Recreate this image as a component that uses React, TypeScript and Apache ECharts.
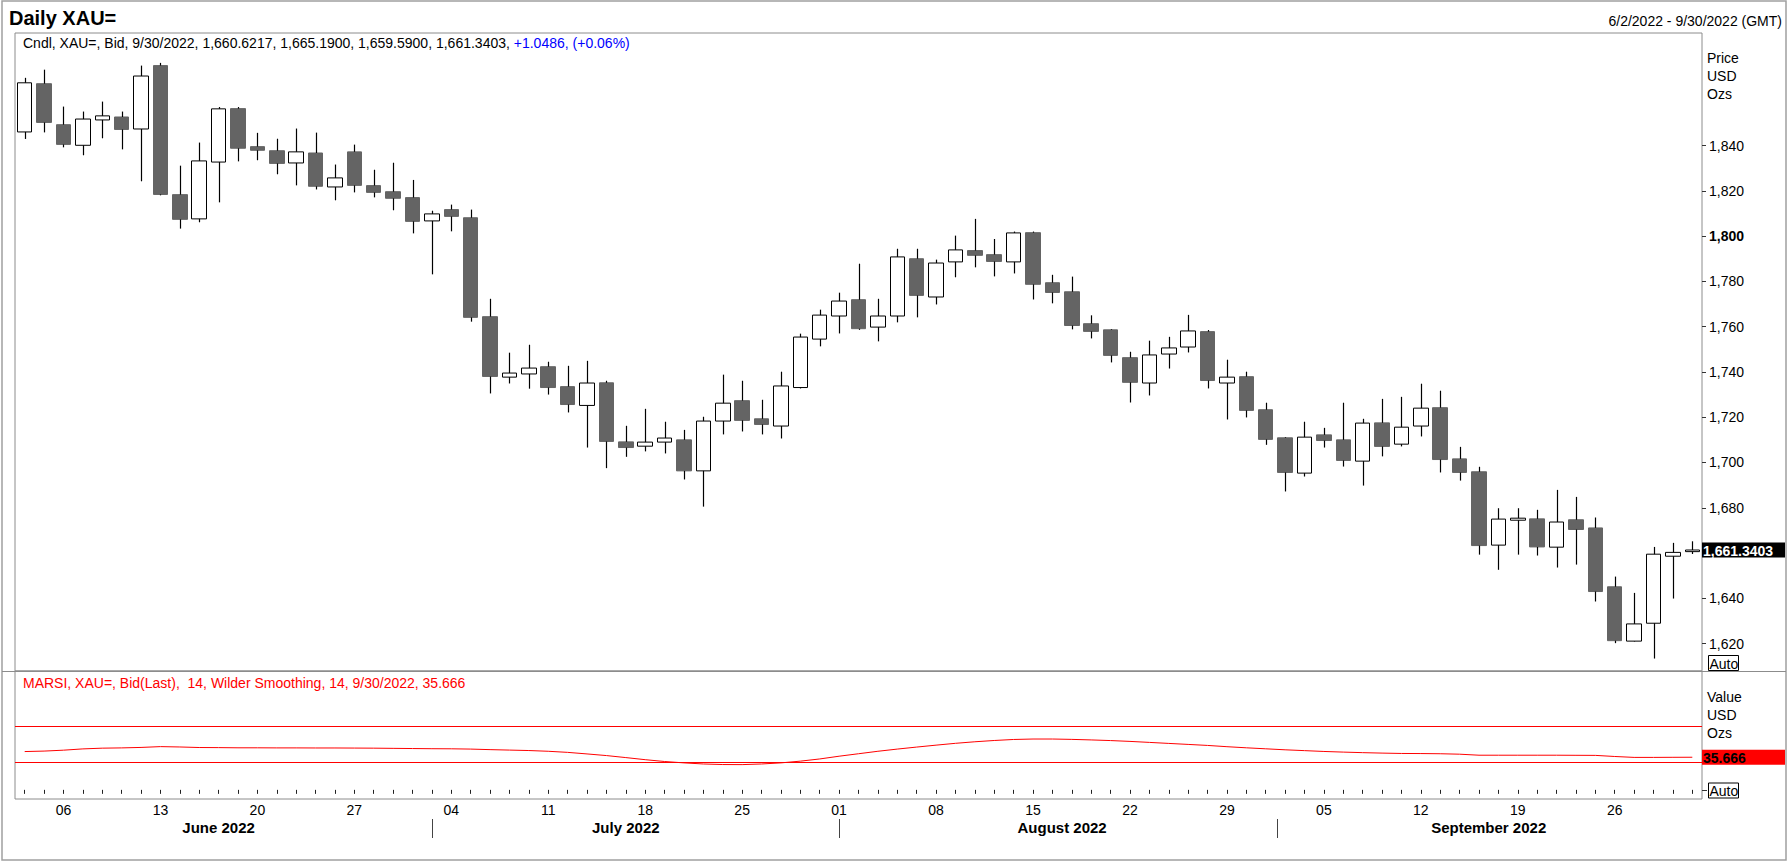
import React, { useEffect, useRef } from "react";
import * as echarts from "echarts";

const dates = [
  "2022-06-02", "2022-06-03",
  "2022-06-06", "2022-06-07", "2022-06-08", "2022-06-09", "2022-06-10",
  "2022-06-13", "2022-06-14", "2022-06-15", "2022-06-16", "2022-06-17",
  "2022-06-20", "2022-06-21", "2022-06-22", "2022-06-23", "2022-06-24",
  "2022-06-27", "2022-06-28", "2022-06-29", "2022-06-30", "2022-07-01",
  "2022-07-04", "2022-07-05", "2022-07-06", "2022-07-07", "2022-07-08",
  "2022-07-11", "2022-07-12", "2022-07-13", "2022-07-14", "2022-07-15",
  "2022-07-18", "2022-07-19", "2022-07-20", "2022-07-21", "2022-07-22",
  "2022-07-25", "2022-07-26", "2022-07-27", "2022-07-28", "2022-07-29",
  "2022-08-01", "2022-08-02", "2022-08-03", "2022-08-04", "2022-08-05",
  "2022-08-08", "2022-08-09", "2022-08-10", "2022-08-11", "2022-08-12",
  "2022-08-15", "2022-08-16", "2022-08-17", "2022-08-18", "2022-08-19",
  "2022-08-22", "2022-08-23", "2022-08-24", "2022-08-25", "2022-08-26",
  "2022-08-29", "2022-08-30", "2022-08-31", "2022-09-01", "2022-09-02",
  "2022-09-05", "2022-09-06", "2022-09-07", "2022-09-08", "2022-09-09",
  "2022-09-12", "2022-09-13", "2022-09-14", "2022-09-15", "2022-09-16",
  "2022-09-19", "2022-09-20", "2022-09-21", "2022-09-22", "2022-09-23",
  "2022-09-26", "2022-09-27", "2022-09-28", "2022-09-29", "2022-09-30",
];

const opens = [
  1846.0, 1867.3,
  1849.2, 1840.1, 1851.3, 1852.6, 1847.3,
  1875.3, 1818.3, 1807.6, 1832.7, 1856.3,
  1839.5, 1837.7, 1832.3, 1836.7, 1821.7,
  1837.2, 1822.3, 1819.6, 1817.0, 1806.7,
  1811.7, 1808.1, 1764.4, 1737.7, 1739.1,
  1742.3, 1733.5, 1725.2, 1735.2, 1709.1,
  1707.2, 1709.0, 1710.0, 1696.3, 1718.3,
  1727.3, 1719.3, 1716.1, 1733.1, 1754.5,
  1764.7, 1771.9, 1759.8, 1764.7, 1790.0,
  1773.1, 1788.6, 1793.6, 1791.8, 1788.6,
  1801.5, 1779.4, 1775.4, 1761.3, 1758.6,
  1746.3, 1735.1, 1747.9, 1751.0, 1757.8,
  1735.1, 1737.9, 1723.3, 1710.9, 1695.3,
  1712.2, 1710.0, 1700.6, 1717.5, 1708.1,
  1716.1, 1724.2, 1701.6, 1695.9, 1663.5,
  1674.5, 1675.1, 1662.6, 1674.7, 1671.1,
  1645.1, 1621.1, 1629.0, 1658.6, 1660.6217,
];

const closes = [
  1867.7, 1850.2,
  1840.5, 1851.7, 1853.1, 1847.1, 1870.7,
  1818.4, 1807.4, 1833.2, 1856.2, 1838.8,
  1837.9, 1832.1, 1837.2, 1822.0, 1825.7,
  1822.4, 1819.3, 1816.7, 1806.5, 1809.8,
  1808.7, 1764.1, 1738.0, 1739.5, 1741.7,
  1733.1, 1725.6, 1735.1, 1709.3, 1706.6,
  1709.0, 1710.8, 1696.3, 1718.3, 1726.2,
  1718.6, 1716.8, 1733.8, 1755.4, 1765.1,
  1771.3, 1759.1, 1764.7, 1790.8, 1773.8,
  1788.1, 1793.9, 1791.5, 1788.8, 1801.4,
  1778.7, 1775.1, 1760.5, 1757.9, 1747.3,
  1735.4, 1747.5, 1750.6, 1758.1, 1736.2,
  1737.7, 1723.0, 1710.2, 1695.6, 1711.2,
  1709.7, 1700.9, 1717.4, 1707.1, 1715.6,
  1724.0, 1701.3, 1695.6, 1663.3, 1675.0,
  1675.4, 1662.7, 1673.7, 1670.4, 1643.0,
  1621.3, 1628.7, 1659.5, 1660.2917, 1661.3403,
];

const highs = [
  1869.9, 1873.5,
  1857.2, 1855.0, 1859.4, 1855.0, 1875.3,
  1876.5, 1831.1, 1841.3, 1857.0, 1857.0,
  1845.6, 1843.0, 1847.5, 1845.7, 1831.6,
  1840.4, 1829.3, 1832.4, 1824.8, 1811.2,
  1813.9, 1811.7, 1772.3, 1748.5, 1752.0,
  1744.5, 1742.7, 1744.9, 1736.1, 1716.2,
  1723.7, 1718.0, 1714.4, 1720.2, 1738.8,
  1736.1, 1727.7, 1740.1, 1756.9, 1767.5,
  1775.0, 1787.8, 1772.3, 1794.4, 1794.4,
  1789.6, 1800.2, 1807.6, 1798.7, 1802.0,
  1802.0, 1782.9, 1782.1, 1765.0, 1758.9,
  1748.9, 1753.8, 1755.5, 1765.2, 1758.5,
  1745.4, 1740.1, 1726.4, 1711.2, 1718.0,
  1715.3, 1726.4, 1719.3, 1728.1, 1729.0,
  1734.8, 1731.7, 1706.9, 1698.1, 1679.8,
  1679.8, 1679.1, 1687.9, 1684.8, 1675.7,
  1649.6, 1642.4, 1662.7, 1664.5, 1665.19,
];

const lows = [
  1842.9, 1845.8,
  1839.2, 1835.7, 1843.2, 1838.3, 1824.2,
  1818.0, 1803.3, 1806.1, 1814.9, 1833.0,
  1833.5, 1827.3, 1822.4, 1820.6, 1815.8,
  1819.3, 1817.1, 1811.4, 1801.2, 1783.1,
  1802.1, 1762.2, 1730.5, 1734.9, 1732.6,
  1730.0, 1722.1, 1706.6, 1697.5, 1702.5,
  1704.9, 1704.0, 1692.5, 1680.5, 1712.4,
  1713.7, 1712.4, 1710.6, 1732.7, 1751.3,
  1757.0, 1758.6, 1753.5, 1761.9, 1764.1,
  1769.8, 1781.8, 1786.2, 1782.2, 1783.5,
  1772.0, 1770.3, 1758.8, 1754.8, 1744.2,
  1726.5, 1729.6, 1741.5, 1748.6, 1732.7,
  1719.0, 1719.9, 1707.8, 1687.2, 1693.8,
  1706.6, 1698.2, 1689.8, 1702.7, 1707.1,
  1711.5, 1695.6, 1692.0, 1659.3, 1652.6,
  1659.3, 1658.9, 1653.6, 1654.9, 1638.6,
  1620.2, 1620.9, 1613.4, 1639.9, 1659.59,
];

const marsi = [
  41.9, 42.4,
  43.4, 44.8, 45.6, 45.9, 46.4,
  47.3, 46.9, 46.3, 46.2, 46.0,
  46.0, 45.9, 45.9, 45.8, 45.8,
  45.7, 45.6, 45.4, 45.2, 45.0,
  44.9, 44.6, 44.0, 43.5, 43.0,
  42.2, 41.0, 39.3, 37.5, 35.3,
  33.0, 31.0, 29.5, 28.3, 27.7,
  27.6, 28.3, 29.5, 31.4, 33.8,
  36.8, 39.5, 42.2, 44.6, 46.8,
  48.9, 50.9, 52.6, 54.0, 55.1,
  55.6, 55.6, 55.2, 54.6, 53.9,
  53.0, 51.9, 50.8, 49.7, 48.6,
  47.2, 46.0, 44.9, 43.8, 42.9,
  42.0, 41.3, 40.7, 40.2, 39.8,
  39.7, 39.5, 39.0, 37.9, 37.9,
  37.9, 37.9, 37.9, 37.8, 37.7,
  36.5, 35.5, 35.5, 35.6, 35.666,
];

const priceTicks = [1620, 1640, 1660, 1680, 1700, 1720, 1740, 1760, 1780, 1800, 1820, 1840];
// 1,660 is hidden behind the last-price box in the reference
const priceLabels = [1620, 1640, 1680, 1700, 1720, 1740, 1760, 1780, 1800, 1820, 1840];
const boldPriceTick = 1800;
const rsiLevels = [70, 30];
const monthNames = ["June 2022", "July 2022", "August 2022", "September 2022"];
const monthCenters = [10, 31, 53.5, 75.5];
const monthBreaks = [21, 42, 64.6];

const FONT = "'Liberation Sans', Arial, Helvetica, sans-serif";

function fmtThousands(v: number, decimals: number): string {
  const s = v.toFixed(decimals);
  const [ip, dp] = s.split(".");
  const withComma = ip.replace(/\B(?=(\d{3})+(?!\d))/g, ",");
  return dp !== undefined ? `${withComma}.${dp}` : withComma;
}

export default function App() {
  const ref = useRef<HTMLDivElement>(null);

  useEffect(() => {
    document.body.style.margin = "0";
    const chart = echarts.init(ref.current!, null, { renderer: "svg" });

    const gridLeft = 15;
    const gridRight = 1702;
    const gridTop = 33;
    const gridMid = 671;
    const gridBottom = 799;

    const n = dates.length;
    const candleData = dates.map((_, i) => [
      opens[i],
      closes[i],
      Math.min(opens[i], closes[i]),
      Math.max(opens[i], closes[i]),
    ]);
    const wickData = dates.map((_, i) => [i, opens[i], closes[i], lows[i], highs[i]]);

    const option: any = {
      animation: false,
      backgroundColor: "#ffffff",
      textStyle: { fontFamily: FONT },
      grid: [
        {
          left: gridLeft,
          top: gridTop,
          width: gridRight - gridLeft,
          height: gridMid - gridTop,
          show: true,
          borderColor: "#8c8c8c",
          borderWidth: 1,
          backgroundColor: "transparent",
        },
        {
          left: gridLeft,
          top: gridMid,
          width: gridRight - gridLeft,
          height: gridBottom - gridMid,
          show: true,
          borderColor: "#8c8c8c",
          borderWidth: 1,
          backgroundColor: "transparent",
        },
      ],
      xAxis: [
        {
          type: "category",
          gridIndex: 0,
          data: dates,
          boundaryGap: true,
          show: false,
        },
        {
          type: "category",
          gridIndex: 1,
          data: dates,
          boundaryGap: true,
          position: "bottom",
          axisLine: { show: false },
          axisTick: {
            show: true,
            alignWithLabel: true,
            interval: 0,
            length: 4,
            lineStyle: { color: "#222", width: 1 },
          },
          axisLabel: {
            interval: (_idx: number, value: string) => new Date(value + "T12:00:00Z").getUTCDay() === 1,
            formatter: (value: string) => value.slice(8, 10),
            color: "#000",
            fontSize: 14,
            fontFamily: FONT,
            margin: 4,
          },
          splitLine: { show: false },
        },
        {
          type: "value",
          gridIndex: 1,
          min: -0.5,
          max: n - 0.5,
          position: "bottom",
          offset: 20,
          axisLine: { show: false },
          splitLine: { show: false },
          axisTick: {
            show: true,
            customValues: monthBreaks,
            length: 19,
            lineStyle: { color: "#444", width: 1 },
          },
          axisLabel: {
            customValues: monthCenters,
            formatter: (v: number) => {
              const k = monthCenters.findIndex((c) => Math.abs(c - v) < 0.01);
              return k >= 0 ? monthNames[k] : "";
            },
            color: "#000",
            fontSize: 15,
            fontWeight: "bold",
            fontFamily: FONT,
            margin: 1,
          },
        },
      ],
      yAxis: [
        {
          type: "value",
          gridIndex: 0,
          position: "right",
          min: 1607.9,
          max: 1889.7,
          scale: true,
          axisLine: { show: false },
          splitLine: { show: false },
          axisTick: {
            show: true,
            customValues: priceTicks,
            length: 4,
            lineStyle: { color: "#333", width: 1 },
          },
          axisLabel: {
            customValues: priceLabels,
            margin: 7,
            color: "#000",
            fontSize: 14,
            fontFamily: FONT,
            formatter: (v: number) => {
              const s = fmtThousands(v, 0);
              return v === boldPriceTick ? `{b|${s}}` : s;
            },
            rich: {
              b: { fontWeight: "bold", fontSize: 14, color: "#000", fontFamily: FONT },
            },
          },
        },
        {
          type: "value",
          gridIndex: 1,
          position: "right",
          min: -10,
          max: 130,
          axisLine: { show: false },
          splitLine: { show: false },
          axisTick: { show: false },
          axisLabel: { show: false },
        },
      ],
      series: [
        {
          type: "candlestick",
          name: "XAU=",
          xAxisIndex: 0,
          yAxisIndex: 0,
          data: candleData,
          barWidth: 15,
          z: 2,
          itemStyle: {
            color: "#ffffff",
            color0: "#646464",
            borderColor: "#000000",
            borderColor0: "#646464",
            borderWidth: 1,
          },
        },
        {
          type: "custom",
          name: "wicks",
          xAxisIndex: 0,
          yAxisIndex: 0,
          data: wickData,
          z: 3,
          encode: { x: 0, y: [1, 2, 3, 4] },
          renderItem: (_params: any, api: any) => {
            const idx = api.value(0);
            const o = api.value(1);
            const c = api.value(2);
            const l = api.value(3);
            const h = api.value(4);
            const pH = api.coord([idx, h]);
            const pT = api.coord([idx, Math.max(o, c)]);
            const pB = api.coord([idx, Math.min(o, c)]);
            const pL = api.coord([idx, l]);
            const xx = Math.round(pH[0]) + 0.5;
            return {
              type: "group",
              children: [
                {
                  type: "line",
                  shape: { x1: xx, y1: pH[1], x2: xx, y2: pT[1] },
                  style: { stroke: "#000", lineWidth: 1.2 },
                },
                {
                  type: "line",
                  shape: { x1: xx, y1: pB[1], x2: xx, y2: pL[1] },
                  style: { stroke: "#000", lineWidth: 1.2 },
                },
              ],
            };
          },
        },
        {
          type: "line",
          name: "MARSI",
          xAxisIndex: 1,
          yAxisIndex: 1,
          data: marsi,
          symbol: "none",
          lineStyle: { color: "#ff0000", width: 1 },
          markLine: {
            silent: true,
            symbol: ["none", "none"],
            label: { show: false },
            lineStyle: { color: "#ff0000", type: "solid", width: 1 },
            data: rsiLevels.map((v) => ({ yAxis: v })),
          },
        },
      ],
    };

    chart.setOption(option);

    const lastClose = closes[n - 1];
    const prevClose = closes[n - 2];
    const change = lastClose - prevClose;
    const pct = (change / prevClose) * 100;
    const lastMarsi = marsi[n - 1];
    const lastDate = "9/30/2022";

    const lastY = chart.convertToPixel({ yAxisIndex: 0 }, lastClose) as number;
    const rsiY = chart.convertToPixel({ yAxisIndex: 1 }, lastMarsi) as number;
    const rsiZeroY = chart.convertToPixel({ yAxisIndex: 1 }, 0) as number;

    const headerBlack = `Cndl, XAU=, Bid, ${lastDate}, ${fmtThousands(opens[n - 1], 4)}, ${fmtThousands(
      highs[n - 1],
      4
    )}, ${fmtThousands(lows[n - 1], 4)}, ${fmtThousands(lastClose, 4)}, `;
    const headerBlue = `${change >= 0 ? "+" : ""}${change.toFixed(4)}, (${change >= 0 ? "+" : ""}${pct.toFixed(2)}%)`;

    const txt = (x: number, y: number, text: string, extra: any = {}) => ({
      type: "text",
      x,
      y,
      silent: true,
      style: {
        text,
        fill: "#000",
        font: `14px ${FONT}`,
        verticalAlign: "middle",
        align: "left",
        ...extra,
      },
    });

    chart.setOption({
      graphic: [
        {
          type: "rect",
          silent: true,
          shape: { x: 2, y: 1, width: 1784, height: 859 },
          style: { fill: "none", stroke: "#a0a0a0", lineWidth: 1.5 },
          z: 10,
        },
        {
          type: "line",
          silent: true,
          shape: { x1: 2, y1: gridMid + 0.5, x2: 1786, y2: gridMid + 0.5 },
          style: { stroke: "#8c8c8c", lineWidth: 1 },
          z: 10,
        },
        {
          type: "line",
          silent: true,
          shape: { x1: gridRight, y1: Math.round(rsiZeroY) + 0.5, x2: gridRight + 5, y2: Math.round(rsiZeroY) + 0.5 },
          style: { stroke: "#333", lineWidth: 1 },
          z: 10,
        },
        txt(9, 18, "Daily XAU=", { font: `bold 20px ${FONT}` }),
        txt(1782, 21, `6/2/2022 - ${lastDate} (GMT)`, { align: "right" }),
        {
          type: "text",
          x: 23,
          y: 43,
          silent: true,
          style: {
            text: `{k|${headerBlack}}{u|${headerBlue}}`,
            verticalAlign: "middle",
            font: `14px ${FONT}`,
            rich: {
              k: { fill: "#000", font: `14px ${FONT}` },
              u: { fill: "#0000ff", font: `14px ${FONT}` },
            },
          },
        },
        txt(
          23,
          683,
          `MARSI, XAU=, Bid(Last),  14, Wilder Smoothing, 14, ${lastDate}, ${lastMarsi.toFixed(3)}`,
          { fill: "#ff0000" }
        ),
        txt(1707, 58, "Price"),
        txt(1707, 76, "USD"),
        txt(1707, 94, "Ozs"),
        txt(1707, 697, "Value"),
        txt(1707, 715, "USD"),
        txt(1707, 733, "Ozs"),
        {
          type: "rect",
          silent: true,
          shape: { x: 1708.5, y: 655.5, width: 30, height: 15 },
          style: { fill: "#fff", stroke: "#000", lineWidth: 1 },
          z: 11,
        },
        { ...txt(1709.5, 663.5, "Auto"), z: 12 },
        {
          type: "rect",
          silent: true,
          shape: { x: 1708.5, y: 783, width: 30, height: 15 },
          style: { fill: "#fff", stroke: "#000", lineWidth: 1 },
          z: 11,
        },
        { ...txt(1709.5, 791, "Auto"), z: 12 },
        {
          type: "rect",
          silent: true,
          shape: { x: 1702, y: lastY - 7.5, width: 83, height: 15 },
          style: { fill: "#000" },
          z: 11,
        },
        {
          ...txt(1703, lastY + 0.5, fmtThousands(lastClose, 4), {
            fill: "#fff",
            font: `bold 14px ${FONT}`,
          }),
          z: 12,
        },
        {
          type: "rect",
          silent: true,
          shape: { x: 1702, y: rsiY - 7.5, width: 83, height: 15 },
          style: { fill: "#ff0000" },
          z: 11,
        },
        {
          ...txt(1703, rsiY + 0.5, lastMarsi.toFixed(3), {
            fill: "#000",
            font: `bold 14px ${FONT}`,
          }),
          z: 12,
        },
      ],
    });

    return () => chart.dispose();
  }, []);

  return (
    <div
      ref={ref}
      style={{ position: "absolute", left: 0, top: 0, width: 1788, height: 862, background: "#fff" }}
    />
  );
}
